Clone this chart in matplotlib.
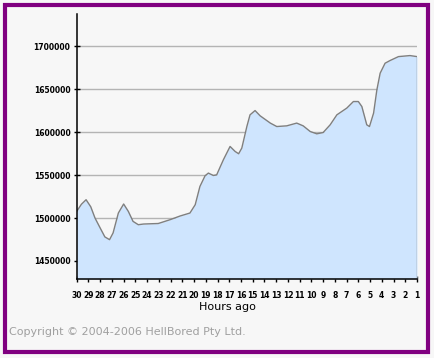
import matplotlib
matplotlib.use("Agg")
import matplotlib.pyplot as plt
from matplotlib.patches import Rectangle

# values (hours ago -> count)
hours = [30.0, 29.6, 29.2, 28.8, 28.44, 28.0, 27.6, 27.2, 26.9, 26.45,
         26.0, 25.6, 25.2, 24.75, 24.3, 23.5, 23.05, 22.05, 21.2, 20.35,
         19.9, 19.5, 19.06, 18.78, 18.35, 18.07, 17.5, 16.93, 16.5, 16.2,
         15.93, 15.5, 15.23, 14.8, 14.37, 13.5, 12.95, 12.1, 11.25, 10.7,
         10.1, 9.54, 9.0, 8.4, 7.83, 6.98, 6.42, 6.0, 5.7, 5.28,
         5.05, 4.7, 4.42, 4.14, 3.72, 3.3, 2.58, 1.6, 1.0]
counts = [1507700, 1516000, 1521300, 1513000, 1500000, 1488400, 1478000, 1474800, 1482600, 1505800,
          1516300, 1507700, 1496100, 1492200, 1493000, 1493400, 1493600, 1498000, 1502300, 1505800,
          1515500, 1536700, 1549200, 1552300, 1549500, 1550300, 1567800, 1583300, 1577500, 1574800,
          1581400, 1606500, 1620100, 1625100, 1619000, 1610500, 1606500, 1607300, 1610500, 1607300,
          1600700, 1598000, 1599500, 1608500, 1620100, 1628000, 1635600, 1635600, 1629800, 1608500,
          1606500, 1622100, 1649200, 1668600, 1680200, 1683300, 1687900, 1689100, 1687900]

x_ticks = list(range(30, 0, -1))
y_ticks = [1450000, 1500000, 1550000, 1600000, 1650000, 1700000]
ymin, ymax = 1429000, 1737500

W, H = 434, 358
fig = plt.figure(figsize=(W / 100, H / 100), dpi=100)
fig.patch.set_facecolor("#f7f7f7")

# purple frame
fig.patches.append(Rectangle((5 / W, 6.5 / H), 422.5 / W, 346.5 / H,
                             transform=fig.transFigure, fill=False,
                             edgecolor="#800080", linewidth=3.0))

ax = fig.add_axes([76.7 / W, 1 - 279 / H, (417 - 76.7) / W, (279 - 14) / H])
ax.set_facecolor("#f7f7f7")

for v in y_ticks:
    ax.axhline(v, color="#b4b4b4", linewidth=1, zorder=1)

ax.fill_between(hours, counts, ymin, color="#cfe5fe", linewidth=0, zorder=2)
ax.plot(hours, counts, color="#7f7f7f", linewidth=1, zorder=3)
ax.vlines(1, ymin, counts[-1], color="#7f7f7f", linewidth=1, zorder=3)

ax.set_xlim(30, 1)
ax.set_ylim(ymin, ymax)
ax.set_xticks(x_ticks)
ax.set_xticklabels([str(h) for h in x_ticks])
ax.set_yticks(y_ticks)
ax.set_yticklabels([str(v) for v in y_ticks])

ax.spines["top"].set_visible(False)
ax.spines["right"].set_visible(False)
ax.spines["left"].set_linewidth(1.1)
ax.spines["bottom"].set_linewidth(1.1)
ax.spines["left"].set_zorder(4)
ax.spines["bottom"].set_zorder(4)
ax.tick_params(axis="both", direction="inout", length=5, width=1,
               labelsize=5.5, pad=2)
ax.tick_params(axis="x", pad=6)
for lab in ax.get_xticklabels() + ax.get_yticklabels():
    lab.set_fontweight("bold")

fig.text(227 / W, 1 - 307 / H, "Hours ago", ha="center", va="center",
         fontsize=8, color="black")
fig.text(9 / W, 1 - 332 / H, "Copyright \u00a9 2004-2006 HellBored Pty Ltd.",
         ha="left", va="center", fontsize=8, color="#a0a0a0")

fig.savefig("out.png", dpi=100, facecolor=fig.get_facecolor())
